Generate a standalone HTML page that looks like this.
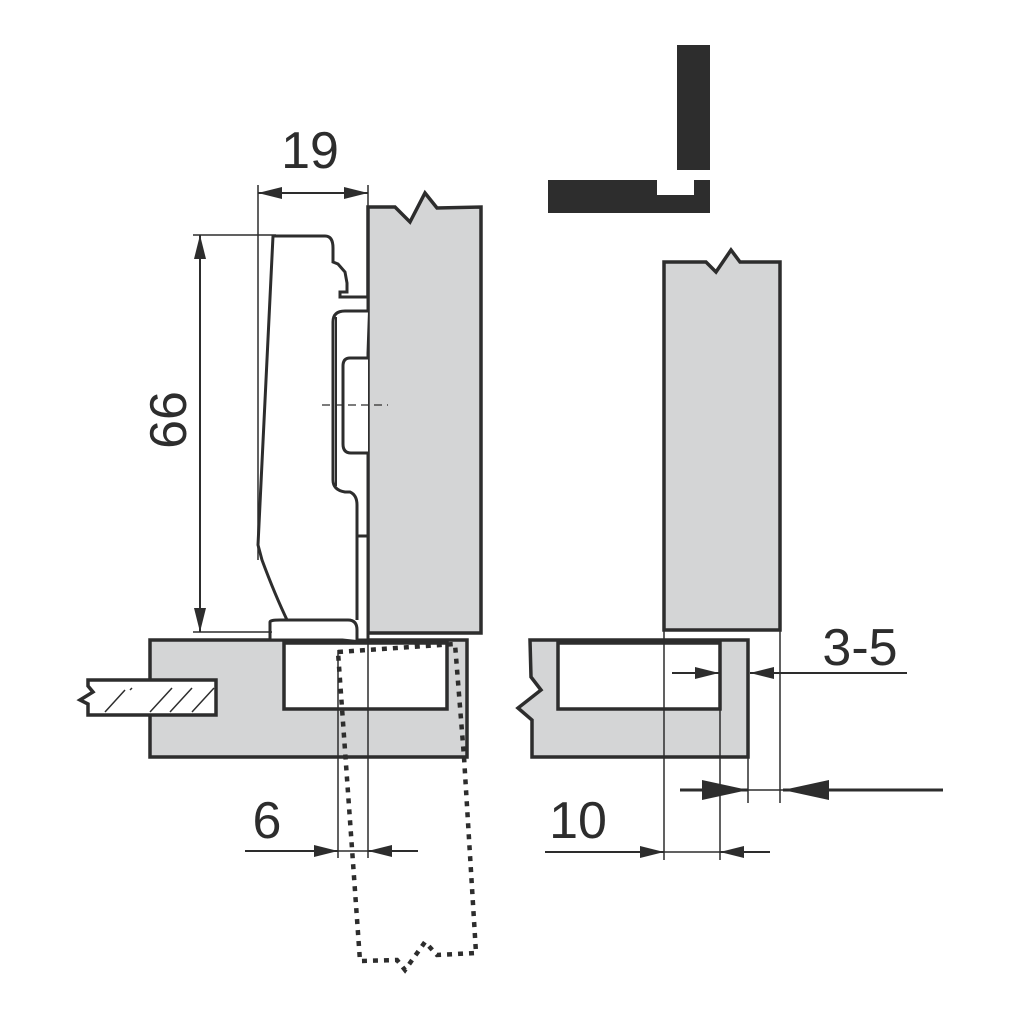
<!DOCTYPE html>
<html><head><style>body{margin:0;background:#fff}svg{display:block}</style></head><body>
<svg width="1024" height="1024" viewBox="0 0 1024 1024" xmlns="http://www.w3.org/2000/svg" font-family="Liberation Sans, sans-serif">
<defs>
<marker id="a" markerWidth="24" markerHeight="12" refX="24" refY="6" orient="auto" markerUnits="userSpaceOnUse"><path d="M0,0 L24,6 L0,12Z" fill="#2d2d2d"/></marker>
<marker id="b" markerWidth="46" markerHeight="20" refX="46" refY="10" orient="auto" markerUnits="userSpaceOnUse"><path d="M0,0 L46,10 L0,20Z" fill="#2d2d2d"/></marker>
</defs>
<rect width="1024" height="1024" fill="#fff"/>
<g stroke="#2d2d2d" stroke-width="3.5" fill="#d4d5d6">
<path d="M368,207 L395,207 L410,222 L425,193 L437,208 L481,207 L481,633 L368,633Z"/>
<path d="M150,640 L467,640 L467,757 L150,757Z"/>
<path d="M284,643 L447,643 L447,709 L284,709Z" fill="#fff"/>
<path d="M88,680 L216,680 L216,715 L88,715 L88,704 L80,700 L93,692 L88,686Z" fill="#fff"/>
<path d="M664,262 L706,262 L716,272 L731,250 L740,262 L780,262 L780,630 L664,630Z"/>
<path d="M530,640 L748,640 L748,757 L532,757 L532,720 L518,708 L541,690 L531,677Z"/>
<path d="M558,643 L720,643 L720,709 L558,709Z" fill="#fff"/>
</g>
<rect x="677" y="45" width="33" height="125" fill="#2d2d2d"/>
<path d="M548,180 L657,180 L657,195 L694,195 L694,180 L710,180 L710,213 L548,213Z" fill="#2d2d2d"/>
<g stroke="#2d2d2d" stroke-width="1.5">
<line x1="105" y1="712" x2="125" y2="690"/>
<line x1="150" y1="712" x2="172" y2="688"/><line x1="170" y1="712" x2="192" y2="688"/>
<line x1="192" y1="712" x2="214" y2="688"/><line x1="130" y1="690" x2="132" y2="688"/>
</g>
<g stroke="#2d2d2d" stroke-width="3" fill="#fff">
<path d="M273,236 L325,236 Q333,236 333,248 L333,262 L338,264 L345,272 L347,283 L347,292 L340,292 L340,297 L368,297 L368,640 L270,640 L270,630 Q270,622 280,622 L288,622 Q275,595 262,560 L258,545 Z"/>
<path d="M368,311 L345,311 Q333,311 333,322 L333,480 Q333,490 345,492 L350,492 Q357,495 357,505 L357,620"/>
<path d="M357,536 L368,536"/>
<path d="M368,358 L350,358 Q343,358 343,366 L343,444 Q343,453 351,453 L368,453"/>
<path d="M270,631 L270,622 Q270,620 280,620 L348,620 Q357,620 357,630 L357,640" />
</g>
<line x1="336" y1="317" x2="336" y2="486" stroke="#2d2d2d" stroke-width="2"/>
<line x1="322" y1="405" x2="388" y2="405" stroke="#2d2d2d" stroke-width="1.2" stroke-dasharray="8,5"/>
<path d="M338,652 L455,644 L464,757 L476,953 L437,955 L425,942 L405,970 L397,960 L360,961 Z" fill="none" stroke="#2d2d2d" stroke-width="4.5" stroke-dasharray="5,6"/>
<g stroke="#2d2d2d" stroke-width="1.5" fill="none">
<line x1="258" y1="185" x2="258" y2="560"/>
<line x1="368" y1="185" x2="368" y2="207"/>
<line x1="193" y1="235" x2="276" y2="235"/>
<line x1="193" y1="632" x2="272" y2="632"/>
<line x1="338" y1="650" x2="338" y2="858"/>
<line x1="368" y1="633" x2="368" y2="858"/>
<line x1="664" y1="630" x2="664" y2="860"/>
<line x1="720" y1="709" x2="720" y2="860"/>
<line x1="748" y1="757" x2="748" y2="803"/>
<line x1="780" y1="630" x2="780" y2="803"/>
<line x1="258" y1="193" x2="368" y2="193" stroke-width="2" marker-end="url(#a)"/>
<line x1="368" y1="193" x2="258" y2="193" stroke-width="2" marker-end="url(#a)"/>
<line x1="200" y1="235" x2="200" y2="632" stroke-width="2" marker-end="url(#a)"/>
<line x1="200" y1="632" x2="200" y2="235" stroke-width="2" marker-end="url(#a)"/>
<line x1="245" y1="851" x2="338" y2="851" stroke-width="2" marker-end="url(#a)"/>
<line x1="418" y1="851" x2="368" y2="851" stroke-width="2" marker-end="url(#a)"/>
<line x1="338" y1="851" x2="368" y2="851"/>
<line x1="545" y1="852" x2="664" y2="852" stroke-width="2" marker-end="url(#a)"/>
<line x1="770" y1="852" x2="720" y2="852" stroke-width="2" marker-end="url(#a)"/>
<line x1="664" y1="852" x2="720" y2="852"/>
<line x1="672" y1="673" x2="719" y2="673" stroke-width="2" marker-end="url(#a)"/>
<line x1="907" y1="673" x2="750" y2="673" stroke-width="2" marker-end="url(#a)"/>
<line x1="680" y1="790" x2="748" y2="790" stroke-width="3" marker-end="url(#b)"/>
<line x1="943" y1="790" x2="783" y2="790" stroke-width="3" marker-end="url(#b)"/>
<line x1="748" y1="790" x2="783" y2="790"/>
</g>
<g fill="#2d2d2d" font-size="52">
<text x="310" y="168" text-anchor="middle">19</text>
<text x="0" y="0" text-anchor="middle" transform="translate(186,420) rotate(-90)">66</text>
<text x="267" y="838" text-anchor="middle">6</text>
<text x="578" y="838" text-anchor="middle">10</text>
<text x="860" y="665" text-anchor="middle">3-5</text>
</g>
</svg>
</body></html>
